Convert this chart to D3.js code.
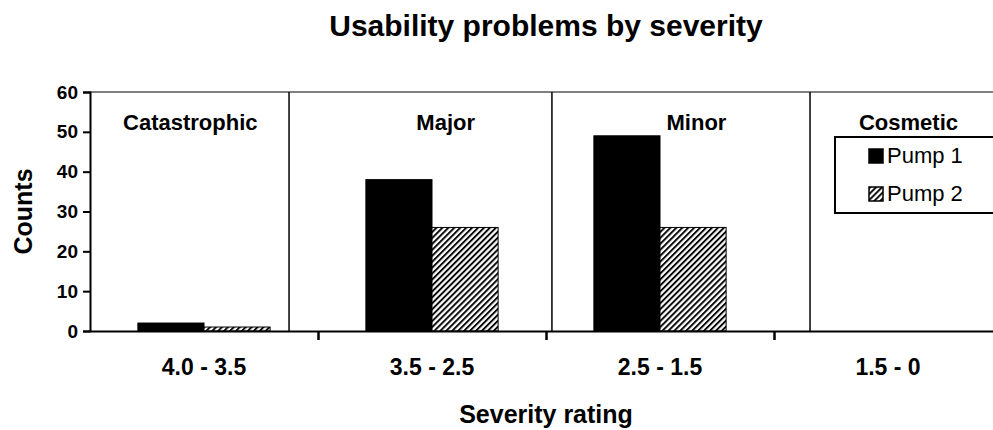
<!DOCTYPE html>
<html>
<head>
<meta charset="utf-8">
<script src="https://cdn.jsdelivr.net/npm/d3@7"></script>
<style>
    body { margin: 0; background: #fff; }
    svg { display: block; font-family: "Liberation Sans", Arial, sans-serif; }
</style>
</head>
<body>
<div id="chart"></div>
<script>
var ranges = ['4.0 - 3.5', '3.5 - 2.5', '2.5 - 1.5', '1.5 - 0'];
var severities = ['Catastrophic', 'Major', 'Minor', 'Cosmetic'];
var seriesNames = ['Pump 1', 'Pump 2'];
var pump1 = [2, 38, 49, 0];
var pump2 = [1, 26, 26, 0];
var yTicks = [0, 10, 20, 30, 40, 50, 60];

// where the severity labels and divider lines sit, in range units (0 = left edge of first range)
var labelPos = [0.44, 1.56, 2.66, 3.59];
var dividerPos = [0.873, 2.026, 3.158];

function createGraph(){
    const width = 993;
    const height = 430;
    const left = 90, right = 1002, top = 92, bottom = 331;

    const stats = ranges.map((r, i) => ({ range: r, values: [pump1[i], pump2[i]] }));

    const xScale = d3.scaleBand()
        .domain(ranges)
        .range([left, right])
        .paddingInner(0.42)
        .paddingOuter(0.21)

    const xEdge = d3.scaleLinear()
        .domain([0, ranges.length])
        .range([left, right])

    const xInner = d3.scaleBand()
        .domain(seriesNames)
        .range([0, xScale.bandwidth()])

    const yScale = d3.scaleLinear()
        .domain([0, 60])
        .range([bottom, top]);

    let svg = d3.select('#chart')
        .append('svg')
        .attr('width', width)
        .attr('height', height)

    svg.append('defs').append('pattern')
        .attr('id', 'hatch')
        .attr('patternUnits', 'userSpaceOnUse')
        .attr('width', 4.2)
        .attr('height', 4.2)
        .attr('patternTransform', 'rotate(45)')
        .call(p => p.append('rect').attr('width', 4.2).attr('height', 4.2).attr('fill', '#fff'))
        .append('line')
        .attr('x1', 1).attr('y1', 0).attr('x2', 1).attr('y2', 4.2)
        .attr('stroke', '#000')
        .attr('stroke-width', 1.9)

    // title
    svg.append('text')
        .attr('x', xEdge(2))
        .attr('y', 36)
        .attr('text-anchor', 'middle')
        .attr('font-size', 30)
        .attr('font-weight', 'bold')
        .text('Usability problems by severity')

    // top frame line
    svg.append('line')
        .attr('x1', left).attr('x2', width)
        .attr('y1', top).attr('y2', top)
        .attr('stroke', '#808080')
        .attr('stroke-width', 2)

    // dividers between severity zones
    svg.selectAll('.divider')
        .data(dividerPos)
        .enter()
        .append('line')
        .attr('class', 'divider')
        .attr('x1', d => xEdge(d)).attr('x2', d => xEdge(d))
        .attr('y1', top).attr('y2', bottom)
        .attr('stroke', '#000')
        .attr('stroke-width', 1.5)

    // severity labels
    svg.selectAll('.sev')
        .data(severities)
        .enter()
        .append('text')
        .attr('class', 'sev')
        .attr('x', (d, i) => xEdge(labelPos[i]))
        .attr('y', 130)
        .attr('text-anchor', 'middle')
        .attr('font-size', 22)
        .attr('font-weight', 'bold')
        .text(d => d)

    // bars
    let groups = svg.selectAll('.grp')
        .data(stats)
        .enter()
        .append('g')
        .attr('class', 'grp')
        .attr('transform', d => `translate(${xScale(d.range)},0)`)

    groups.selectAll('rect')
        .data(d => d.values.map((v, k) => ({ name: seriesNames[k], value: v })).filter(e => e.value > 0))
        .enter()
        .append('rect')
        .attr('x', d => xInner(d.name))
        .attr('y', d => yScale(d.value))
        .attr('width', xInner.bandwidth())
        .attr('height', d => bottom - yScale(d.value))
        .attr('fill', d => d.name == 'Pump 1' ? '#000' : 'url(#hatch)')
        .attr('stroke', '#000')
        .attr('stroke-width', 1)

    // y axis
    let yAxis = svg.append('g')
        .attr('transform', `translate(${left},0)`)
        .call(d3.axisLeft(yScale).tickValues(yTicks).tickSize(7).tickPadding(5))
    yAxis.select('.domain').attr('stroke-width', 2)
    yAxis.selectAll('.tick line').attr('stroke-width', 2)
    yAxis.selectAll('.tick text')
        .attr('font-size', 19)
        .attr('font-weight', 'bold')
        .attr('font-family', '"Liberation Sans", Arial, sans-serif')
        .attr('fill', '#000')

    // x axis: ticks on range boundaries
    let xAxis = svg.append('g')
        .attr('transform', `translate(0,${bottom})`)
        .call(d3.axisBottom(xEdge).tickValues(d3.range(1, ranges.length + 1)).tickFormat('').tickSize(9).tickSizeOuter(0))
    xAxis.select('.domain').attr('stroke-width', 2)
    xAxis.selectAll('.tick line').attr('stroke-width', 2.5)

    svg.selectAll('.rlab')
        .data(ranges)
        .enter()
        .append('text')
        .attr('class', 'rlab')
        .attr('x', d => xScale(d) + xScale.bandwidth() / 2)
        .attr('y', 375)
        .attr('text-anchor', 'middle')
        .attr('font-size', 23)
        .attr('font-weight', 'bold')
        .text(d => d)

    // axis titles
    svg.append('text')
        .attr('x', xEdge(2))
        .attr('y', 423)
        .attr('text-anchor', 'middle')
        .attr('font-size', 25)
        .attr('font-weight', 'bold')
        .text('Severity rating')

    svg.append('text')
        .attr('transform', `translate(32,${(top + bottom) / 2}) rotate(-90)`)
        .attr('text-anchor', 'middle')
        .attr('font-size', 25)
        .attr('font-weight', 'bold')
        .text('Counts')

    // legend
    let legend = svg.append('g').attr('transform', 'translate(835,137)')
    legend.append('rect')
        .attr('width', 200)
        .attr('height', 76)
        .attr('fill', '#fff')
        .attr('stroke', '#000')
        .attr('stroke-width', 2)

    let items = legend.selectAll('.item')
        .data(seriesNames)
        .enter()
        .append('g')
        .attr('class', 'item')
        .attr('transform', (d, i) => `translate(34,${12 + i * 38})`)
    items.append('rect')
        .attr('width', 14)
        .attr('height', 14)
        .attr('fill', d => d == 'Pump 1' ? '#000' : 'url(#hatch)')
        .attr('stroke', '#000')
        .attr('stroke-width', 1.5)
    items.append('text')
        .attr('x', 18)
        .attr('y', 14)
        .attr('font-size', 22)
        .text(d => d)
}

createGraph();
</script>
</body>
</html>
